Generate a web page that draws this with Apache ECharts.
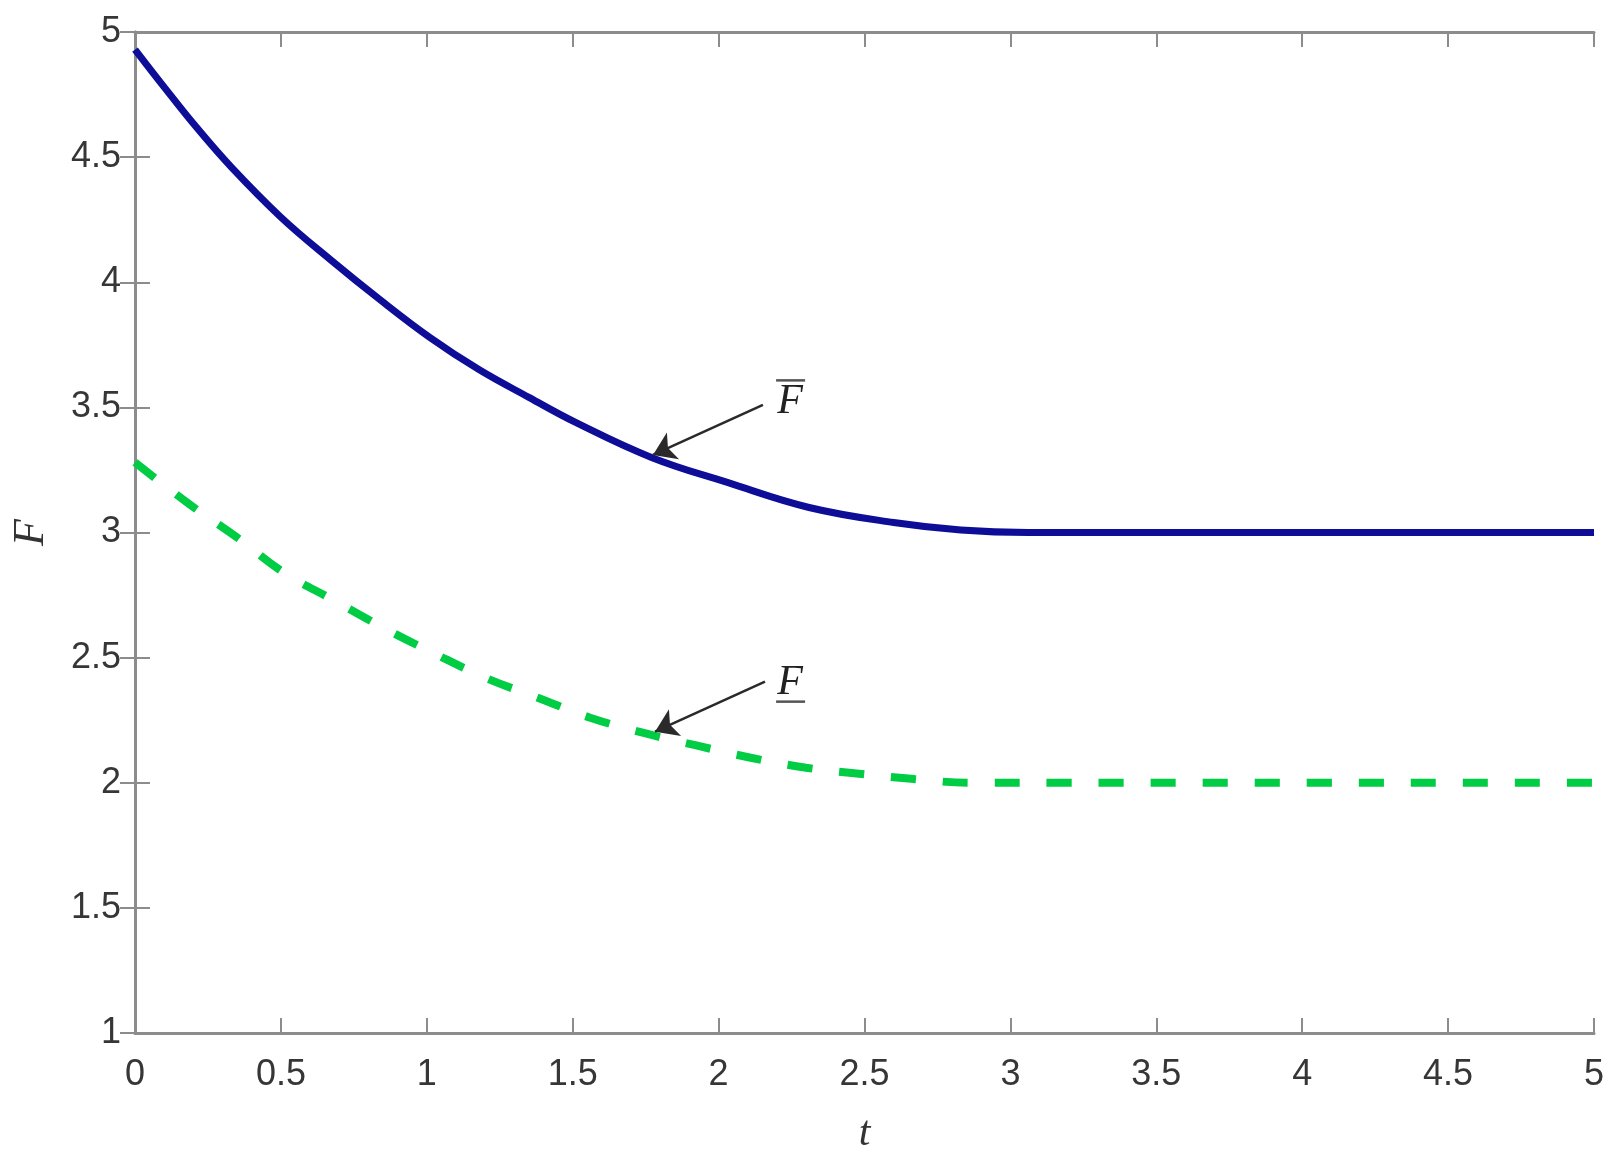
<!DOCTYPE html>
<html>
<head>
<meta charset="utf-8">
<script src="https://cdn.jsdelivr.net/npm/echarts@6/dist/echarts.min.js"></script>
<style>
  html, body { margin: 0; padding: 0; background: #fff; }
  #chart { width: 1623px; height: 1168px; }
</style>
</head>
<body>
<div id="chart"></div>
<script>
// upper bound curve (solid blue)
const tUpper = [0, 0.1, 0.21, 0.33, 0.5, 0.67, 0.84, 1.01, 1.18, 1.35, 1.51, 1.77, 2.03, 2.31, 2.6, 2.83, 3.06, 5]
const fUpper = [4.93, 4.78, 4.62, 4.46, 4.26, 4.09, 3.93, 3.78, 3.65, 3.54, 3.44, 3.30, 3.20, 3.10, 3.04, 3.01, 3.0, 3.0]

// lower bound curve (dashed green)
const tLower = [0, 0.19, 0.35, 0.51, 0.68, 0.85, 1.02, 1.2, 1.38, 1.56, 1.74, 1.92, 2.11, 2.3, 2.49, 2.67, 2.86, 3.06, 5]
const fLower = [3.28, 3.11, 2.98, 2.84, 2.73, 2.62, 2.52, 2.42, 2.34, 2.26, 2.20, 2.15, 2.10, 2.06, 2.035, 2.015, 2.0, 2.0, 2.0]

// annotations: arrow tail / tip and label anchor, in data units
const arrowFrom = [[2.152, 3.51], [2.159, 2.404]]
const arrowTo = [[1.775, 3.31], [1.782, 2.204]]
const labelAt = [[2.245, 3.52], [2.245, 2.40]]
const labelDeco = ['over', 'under']

const axisGray = '#8c8c8c'
const labelGray = '#363636'

const chart = echarts.init(document.getElementById('chart'))

const hiddenAxis = {
  type: 'value', min: 0, max: 5, interval: 0.5,
  axisLine: { show: true, lineStyle: { color: axisGray, width: 3 } },
  axisTick: { show: true, inside: true, length: 15, lineStyle: { color: axisGray, width: 2 } },
  axisLabel: { show: false },
  splitLine: { show: false }
}

chart.setOption({
  animation: false,
  grid: { left: 135, right: 29, top: 32, bottom: 135, outerBoundsMode: 'none' },
  xAxis: [{
    type: 'value', min: 0, max: 5, interval: 0.5, position: 'bottom',
    name: 't', nameLocation: 'middle', nameGap: 80,
    nameTextStyle: { fontFamily: 'Liberation Serif', fontStyle: 'italic', fontSize: 42, color: '#333' },
    axisLine: { lineStyle: { color: axisGray, width: 3 } },
    axisTick: { inside: true, length: 15, lineStyle: { color: axisGray, width: 2 } },
    axisLabel: { fontFamily: 'Liberation Sans', fontSize: 36, color: labelGray, margin: 24 },
    splitLine: { show: false }
  }, { ...hiddenAxis, position: 'top' }],
  yAxis: [{
    type: 'value', min: 1, max: 5, interval: 0.5, position: 'left',
    name: 'F', nameLocation: 'middle', nameGap: 82,
    nameTextStyle: { fontFamily: 'Liberation Serif', fontStyle: 'italic', fontSize: 44, color: '#333' },
    axisLine: { show: true, lineStyle: { color: axisGray, width: 3 } },
    axisTick: { show: true, inside: true, length: 15, lineStyle: { color: axisGray, width: 2 } },
    axisLabel: { fontFamily: 'Liberation Sans', fontSize: 36, color: labelGray, margin: 14 },
    splitLine: { show: false }
  }, { ...hiddenAxis, min: 1, max: 5, position: 'right' }],
  series: [{
    name: 'upper',
    type: 'line',
    data: tUpper.map((t, i) => [t, fUpper[i]]),
    showSymbol: false,
    smooth: 0.4,
    lineStyle: { color: '#0d0d98', width: 7 },
    markLine: {
      silent: true,
      symbol: ['none', 'arrow'],
      symbolSize: 22,
      label: { show: false },
      lineStyle: { color: '#2a2a2a', width: 2.5, type: 'solid' },
      data: arrowFrom.map((p, i) => [{ coord: p }, { coord: arrowTo[i] }])
    }
  }, {
    name: 'lower',
    type: 'line',
    data: tLower.map((t, i) => [t, fLower[i]]),
    showSymbol: false,
    smooth: 0.4,
    lineStyle: { color: '#00cc44', width: 8, type: [25, 27], cap: 'butt' }
  }]
})

// F labels with over/under bar, placed through the chart's own scale
const graphics = []
labelAt.forEach((p, i) => {
  const [x, y] = chart.convertToPixel({ gridIndex: 0 }, p)
  graphics.push({
    type: 'text', x: x, y: y,
    style: {
      text: 'F', fontFamily: 'Liberation Serif', fontStyle: 'italic', fontSize: 42,
      fill: '#222', align: 'center', verticalAlign: 'middle'
    }
  })
  const barY = labelDeco[i] === 'over' ? y - 22 : y + 19
  graphics.push({
    type: 'line',
    shape: { x1: x - 14, y1: barY, x2: x + 15, y2: barY },
    style: { stroke: '#555', lineWidth: 2.5 }
  })
})
chart.setOption({ graphic: graphics })
</script>
</body>
</html>
